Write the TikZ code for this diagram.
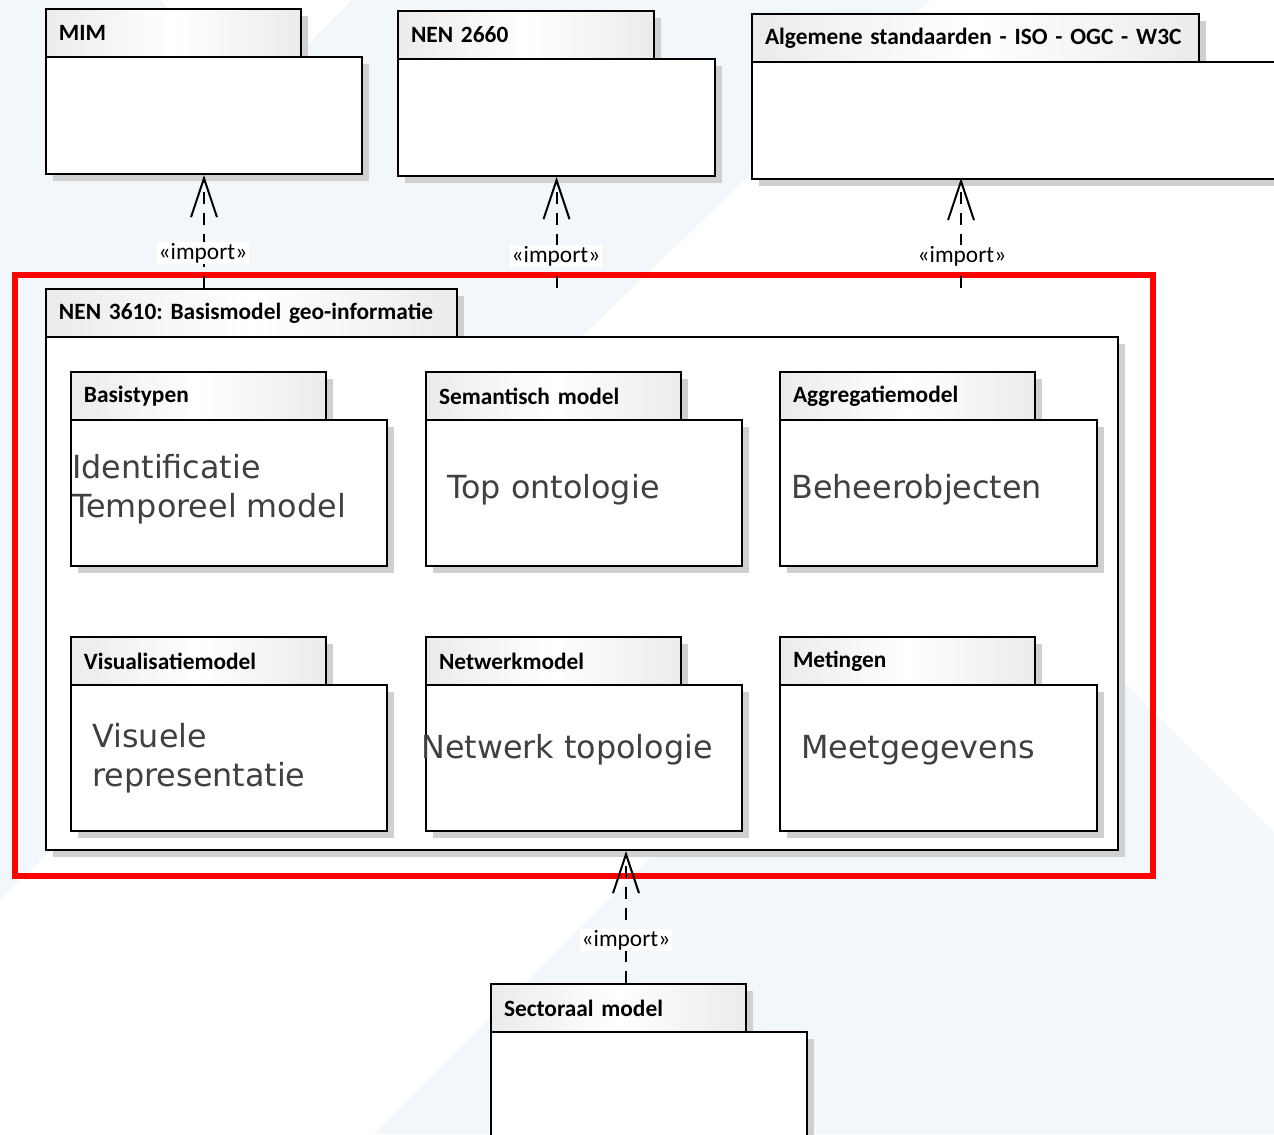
\documentclass[tikz,border=0pt]{standalone}
\usepackage{fontspec}
\setmainfont{Carlito}
\newfontfamily\eafont[WordSpace=0.6]{Carlito}
\newfontfamily\notefont{DejaVu Sans}
\usepackage{tikz}
\usetikzlibrary{arrows.meta}
\frenchspacing

\definecolor{bgblue}{HTML}{F2F7FC}
\definecolor{pkgshadow}{HTML}{D0D0D0}
\definecolor{notegray}{HTML}{404040}
\definecolor{tabgray}{HTML}{EBEBEB}

% package = tab + body, coordinates in pixels, y downwards
\newcommand{\umlpackage}[7]{%
	\fill[pkgshadow] (#2+#4,#3+8) rectangle (#2+#4+8,#3+48);
	\fill[pkgshadow] (#2+8,#3+56) rectangle (#2+#5+8,#3+56+#6);
	\node[pkgbody, minimum width=#5*0.02cm, minimum height=#6*0.02cm] (#1) at (#2,#3+48) {};
	\node[pkgtab, text width=#4*0.02cm-0.52cm] (#1-tab) at (#2,#3) {#7};
}

\begin{document}
\begin{tikzpicture}[x=0.02cm, y=-0.02cm,
		pkgbody/.style={draw, line width=0.04cm, fill=white, anchor=north west, inner sep=0},
		pkgtab/.style={draw, line width=0.04cm, anchor=north west, minimum height=0.96cm,
			inner xsep=0.26cm, inner ysep=0, align=left,
			left color=tabgray, right color=tabgray, middle color=white,
			font=\eafont\fontsize{13.3pt}{15pt}\selectfont\bfseries},
		notetext/.style={anchor=west, inner sep=0, align=left, text=notegray,
			font=\notefont\fontsize{18.1pt}{22.2pt}\selectfont},
		importdep/.style={line width=0.04cm, dash pattern=on 0.24cm off 0.18cm,
			-{Straight Barb[length=0.78cm, width=0.52cm]}},
		importlabel/.style={fill=white, inner sep=0.03cm,
			font=\eafont\fontsize{13.3pt}{15pt}\selectfont}]
	\useasboundingbox (0,0) rectangle (1274,1134);
	\clip (0,0) rectangle (1274,1134);

	% background
	\fill[white] (0,0) rectangle (1274,1134);
	\fill[bgblue] (0,0) -- (930,0) -- (0,900) -- cycle;
	\fill[white] (160,0) -- (352,0) -- (256,96) -- cycle;
	\fill[bgblue] (975,533) -- (1274,832) -- (1274,1134) -- (374,1134) -- cycle;

	% packages
	\umlpackage{mim}{45}{8}{255}{316}{117}{MIM}
	\umlpackage{nen2660}{397}{10}{256}{317}{117}{NEN 2660}
	\umlpackage{alg}{751}{13}{447}{600}{117}{Algemene standaarden - ISO - OGC - W3C}
	\umlpackage{nen3610}{45}{288}{411}{1072}{513}{NEN 3610: Basismodel geo-informatie}
	\umlpackage{basis}{70}{371}{255}{316}{146}{Basistypen}
	\umlpackage{semantisch}{425}{371}{255}{316}{146}{Semantisch model}
	\umlpackage{aggregatie}{779}{371}{255}{317}{146}{Aggregatiemodel}
	\umlpackage{visualisatie}{70}{636}{255}{316}{146}{Visualisatiemodel}
	\umlpackage{netwerk}{425}{636}{255}{316}{146}{Netwerkmodel}
	\umlpackage{metingen}{779}{636}{255}{317}{146}{Metingen}
	\umlpackage{sectoraal}{490}{983}{255}{316}{200}{Sectoraal model}

	\node[notetext] (basis-note) at (72,489) {Identificatie\\Temporeel model};
	\node[notetext] (semantisch-note) at (447,490) {Top ontologie};
	\node[notetext] (aggregatie-note) at (791,490) {Beheerobjecten};
	\node[notetext] (visualisatie-note) at (92,758) {Visuele\\representatie};
	\node[notetext] (netwerk-note) at (421,750) {Netwerk topologie};
	\node[notetext] (metingen-note) at (801,750) {Meetgegevens};

	% highlight
	\draw[red, line width=0.12cm] (15,274.5) rectangle (1153,875.5);

	% imports
	\coordinate (alg-imp) at (961,178);
	\coordinate (sectoraal-imp) at (626,983);
	\draw[importdep] (nen3610-tab.north -| mim.south) -- (mim.south);
	\draw[importdep] (nen3610-tab.north -| nen2660.south) -- (nen2660.south);
	\draw[importdep] (nen3610-tab.north -| alg-imp) -- (alg-imp);
	\draw[importdep] (sectoraal-imp) -- (sectoraal-imp |- nen3610.south);
	\node[importlabel] (mim-imp) at (203,253) {«import»};
	\node[importlabel] (nen2660-imp) at (556,256) {«import»};
	\node[importlabel] (alg-imp-label) at (962,256) {«import»};
	\node[importlabel] (sectoraal-imp-label) at (626,940) {«import»};
\end{tikzpicture}
\end{document}
